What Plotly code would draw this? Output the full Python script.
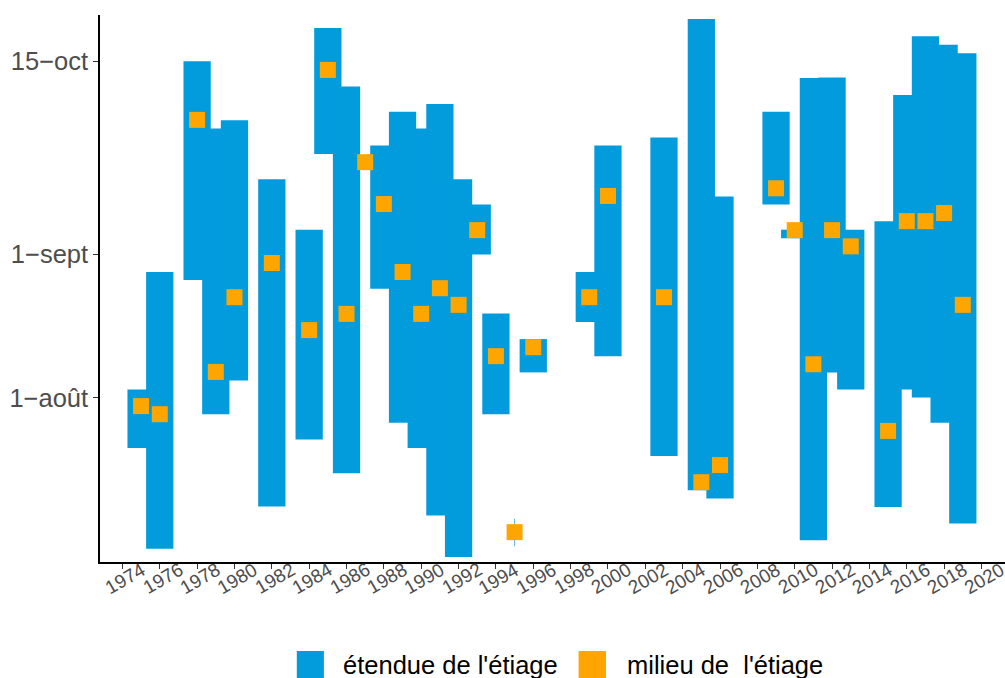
import plotly.graph_objects as go

# ---------------- data ----------------
# y values are day-of-year positions (1-août = 213)
YEARS = [1975, 1976, 1978, 1979, 1980, 1982, 1984, 1985, 1986, 1987,
         1988, 1989, 1990, 1991, 1992, 1993, 1994, 1995, 1996, 1999,
         2000, 2003, 2005, 2006, 2009, 2010, 2011, 2012, 2013, 2015,
         2016, 2017, 2018, 2019]
DEBUT = [201.8, 179.4, 239.1, 209.3, 216.8, 188.8, 203.7, 267.1, 196.2, None,
         237.2, 207.4, 201.8, 186.8, 177.6, 244.8, 209.3, 180.0, 218.6, 229.8,
         222.2, 200.0, 192.4, 190.6, 255.9, 248.4, 181.3, 218.6, 214.8, 188.7,
         214.8, 213.0, 207.4, 185.0]
FIN = [214.8, 240.9, 287.7, 272.8, 274.6, 261.5, 250.3, 295.1, 282.1, None,
       269.0, 276.5, 272.8, 278.2, 261.5, 255.9, 231.7, 186.1, 226.0, 240.9,
       269.0, 270.8, 297.1, 257.7, 276.5, 250.3, 284.0, 284.1, 250.3, 252.2,
       280.2, 293.3, 291.4, 289.5]
MILIEU = [211.1, 209.3, 274.7, 218.7, 235.3, 242.9, 228.0, 285.8, 231.6, 265.3,
          256.0, 240.9, 231.6, 237.3, 233.6, 250.2, 222.2, 183.1, 224.2, 235.3,
          257.8, 235.3, 194.2, 198.0, 259.5, 250.2, 220.4, 250.2, 246.6, 205.6,
          252.2, 252.2, 254.0, 233.6]
THIN_YEARS = [1995]  # range drawn as a hairline in the reference

X_TICKS = list(range(1974, 2021, 2))
Y_TICK_VALS = [213, 244.8, 287.7]
Y_TICK_TEXT = ["1\u2212ao\u00fbt", "1\u2212sept", "15\u2212oct"]
LEGEND_LABELS = ["\u00e9tendue de l'\u00e9tiage", "milieu de  l'\u00e9tiage"]

# ---------------- styling ----------------
BLUE = "#029CDD"
LIGHT_BLUE = "#5AB9E6"
ORANGE = "#FFA500"
FONT = "Liberation Sans, Arial, Helvetica, sans-serif"
W, H = 1005, 678
ML, MR, MT, MB = 100, 0, 15, 116
PW, PH = W - ML - MR, H - MT - MB


def px_x(px):
    return (px - ML) / PW


def px_y(py):
    return (H - MB - py) / PH


fig = go.Figure()

bx, bbase, blen = [], [], []
for yr, lo, hi in zip(YEARS, DEBUT, FIN):
    if lo is None or hi is None or yr in THIN_YEARS:
        continue
    bx.append(yr)
    bbase.append(lo)
    blen.append(hi - lo)

fig.add_trace(go.Bar(x=bx, y=blen, base=bbase, width=1.46,
                     marker=dict(color=BLUE, line=dict(width=0)),
                     name=LEGEND_LABELS[0], showlegend=False))

for yr in THIN_YEARS:
    i = YEARS.index(yr)
    fig.add_trace(go.Scatter(x=[yr, yr], y=[DEBUT[i], FIN[i]], mode="lines",
                             line=dict(color=LIGHT_BLUE, width=1),
                             showlegend=False, hoverinfo="skip"))

fig.add_trace(go.Scatter(x=YEARS, y=MILIEU, mode="markers",
                         marker=dict(symbol="square", size=16, color=ORANGE,
                                     line=dict(width=0)),
                         name=LEGEND_LABELS[1], showlegend=False))

annotations = []
for yr in X_TICKS:
    annotations.append(dict(x=yr, y=0, xref="x", yref="paper", text=str(yr),
                            showarrow=False, textangle=-30, xanchor="center",
                            yanchor="middle", yshift=-16.5, xshift=3,
                            font=dict(family=FONT, size=19, color="#4D4D4D")))

shapes = []
legend_items = [(296.8, 323.9, BLUE, 341.4, LEGEND_LABELS[0]),
                (578.6, 606.0, ORANGE, 624.6, LEGEND_LABELS[1])]
for x0, x1, col, tx, label in legend_items:
    shapes.append(dict(type="rect", xref="paper", yref="paper",
                       x0=px_x(x0), x1=px_x(x1), y0=px_y(651), y1=px_y(684),
                       fillcolor=col, line=dict(width=0), layer="above"))
    annotations.append(dict(x=px_x(tx), y=px_y(665), xref="paper", yref="paper",
                            text=label, showarrow=False, xanchor="left",
                            yanchor="middle",
                            font=dict(family=FONT, size=25.5, color="black")))

fig.update_layout(
    width=W, height=H,
    margin=dict(l=ML, r=MR, t=MT, b=MB, pad=0),
    paper_bgcolor="white", plot_bgcolor="white",
    barmode="overlay", showlegend=False,
    font=dict(family=FONT),
    xaxis=dict(range=[1972.8, 2021.26], tickmode="array", tickvals=X_TICKS,
               showticklabels=False, ticks="outside", ticklen=5, tickwidth=1.2,
               tickcolor="#333333", showline=True, linecolor="black",
               linewidth=1.6, showgrid=False, zeroline=False),
    yaxis=dict(range=[176.47, 298.0], tickmode="array", tickvals=Y_TICK_VALS,
               ticktext=Y_TICK_TEXT, ticks="outside", ticklen=5, tickwidth=1.2,
               tickcolor="#333333", showline=True, linecolor="black",
               linewidth=1.6, showgrid=False, zeroline=False,
               tickfont=dict(family=FONT, size=25.5, color="#4D4D4D")),
    annotations=annotations,
    shapes=shapes,
)

fig.write_html(
    "out.html",
    config={"displayModeBar": False},
    post_script="document.body.style.margin='0';document.body.style.overflow='hidden';",
)
